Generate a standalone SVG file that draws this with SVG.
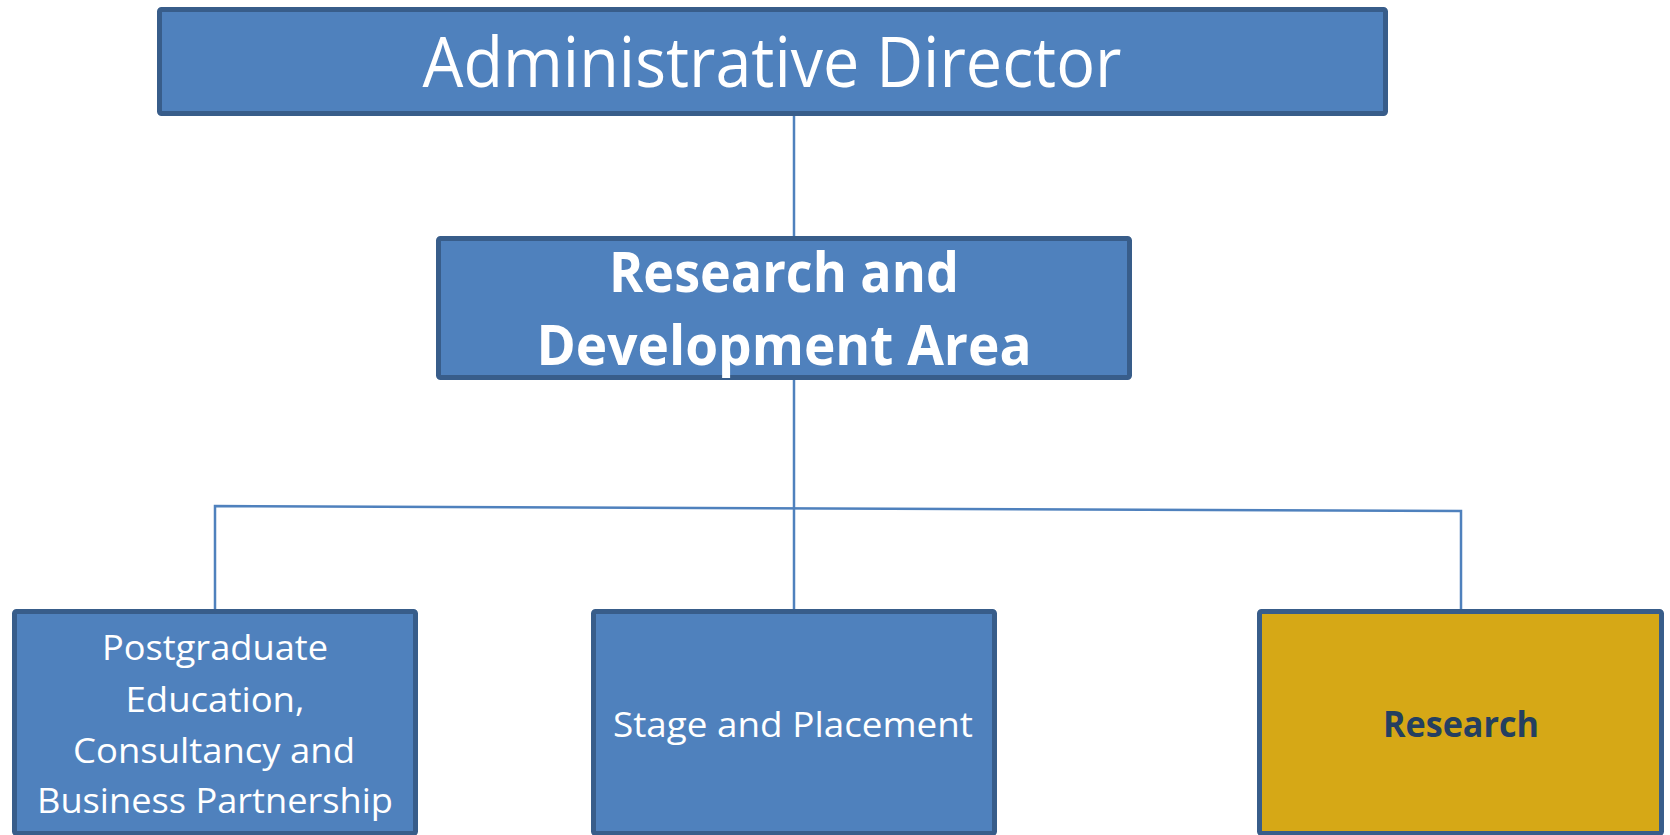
<svg xmlns="http://www.w3.org/2000/svg" width="1670" height="835" viewBox="0 0 1670 835">
<style>
.box{fill:#4f81bd;stroke:#385d8a;stroke-width:5}
.gold{fill:#d6a816;stroke:#385d8a;stroke-width:5}
.t{font-family:"Open Sans","Noto Sans",sans-serif;fill:#ffffff;text-anchor:middle}
.b{font-weight:bold}
.conn{stroke:#4f81bd;stroke-width:2.5;fill:none}
</style>
<g id="connectors">
<line class="conn" x1="794" y1="116" x2="794" y2="236"/>
<line class="conn" x1="794" y1="380" x2="794" y2="609"/>
<polyline class="conn" points="215,609 215,506 1461,511 1461,609"/>
</g>
<g id="admin-director">
<rect class="box" x="159.5" y="9.5" width="1226" height="104" rx="2"/>
<text class="t" x="772" y="87" font-size="70" textLength="699" lengthAdjust="spacingAndGlyphs">Administrative Director</text>
</g>
<g id="rd-area">
<rect class="box" x="438.5" y="238.5" width="691" height="139" rx="2"/>
<text class="t b" x="784" y="292" font-size="55" textLength="350" lengthAdjust="spacingAndGlyphs">Research and</text>
<text class="t b" x="784" y="365" font-size="55" textLength="495" lengthAdjust="spacingAndGlyphs">Development Area</text>
</g>
<g id="postgraduate">
<rect class="box" x="14.5" y="611.5" width="401" height="222" rx="2"/>
<text class="t" x="215" y="660" font-size="35" textLength="226" lengthAdjust="spacingAndGlyphs">Postgraduate</text>
<text class="t" x="215" y="712" font-size="35" textLength="179" lengthAdjust="spacingAndGlyphs">Education,</text>
<text class="t" x="214" y="763" font-size="35" textLength="282" lengthAdjust="spacingAndGlyphs">Consultancy and</text>
<text class="t" x="215" y="813" font-size="35" textLength="356" lengthAdjust="spacingAndGlyphs">Business Partnership</text>
</g>
<g id="stage-placement">
<rect class="box" x="593.5" y="611.5" width="401" height="222" rx="2"/>
<text class="t" x="793" y="737" font-size="35" textLength="360" lengthAdjust="spacingAndGlyphs">Stage and Placement</text>
</g>
<g id="research">
<rect class="gold" x="1259.5" y="611.5" width="402" height="222" rx="2"/>
<text class="t b" x="1461" y="737" font-size="35" fill="#243f60" style="fill:#243f60" textLength="156" lengthAdjust="spacingAndGlyphs">Research</text>
</g>
</svg>
